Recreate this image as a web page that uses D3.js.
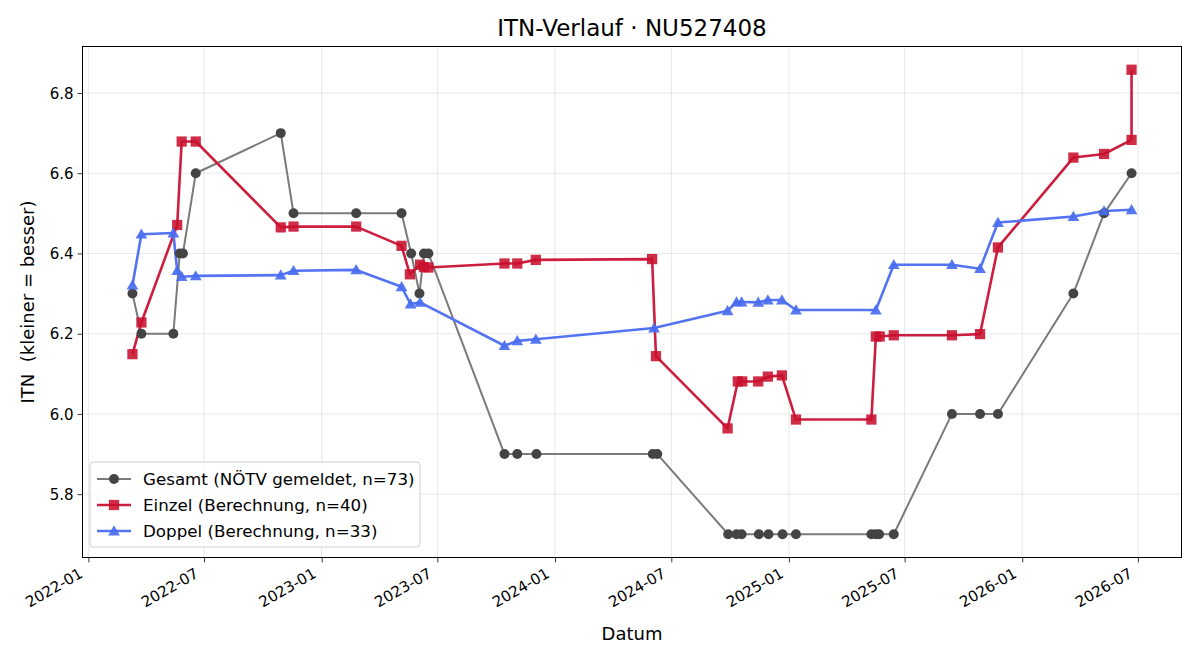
<!DOCTYPE html>
<html><head><meta charset="utf-8">
<script src="https://cdn.jsdelivr.net/npm/d3@7"></script>
<style>body{margin:0;background:#fff}svg,svg text{font-family:"DejaVu Sans",sans-serif}</style>
</head><body><svg id="c" width="1200" height="660"></svg>
<script>
const gesamtDates = ["2022-03-11","2022-03-25","2022-05-14","2022-05-24","2022-05-29","2022-06-18","2022-10-29","2022-11-18","2023-02-24","2023-05-06","2023-05-21","2023-06-03","2023-06-10","2023-06-17","2023-10-14","2023-11-03","2023-12-03","2024-06-02","2024-06-09","2024-09-28","2024-10-11","2024-10-19","2024-11-15","2024-11-30","2024-12-22","2025-01-12","2025-05-10","2025-05-17","2025-05-22","2025-06-14","2025-09-13","2025-10-27","2025-11-24","2026-03-22","2026-05-09","2026-06-21"];
const gesamtValues = [6.3,6.2,6.2,6.4,6.4,6.6,6.7,6.5,6.5,6.5,6.4,6.3,6.4,6.4,5.9,5.9,5.9,5.9,5.9,5.7,5.7,5.7,5.7,5.7,5.7,5.7,5.7,5.7,5.7,5.7,6.0,6.0,6.0,6.3,6.5,6.6];

const einzelDates = ["2022-03-11","2022-03-25","2022-05-20","2022-05-27","2022-06-18","2022-10-29","2022-11-18","2023-02-24","2023-05-06","2023-05-19","2023-06-04","2023-06-10","2023-06-17","2023-10-14","2023-11-03","2023-12-02","2024-06-01","2024-06-07","2024-09-27","2024-10-13","2024-10-20","2024-11-14","2024-11-29","2024-12-21","2025-01-12","2025-05-10","2025-05-17","2025-05-23","2025-06-14","2025-09-13","2025-10-27","2025-11-24","2026-03-22","2026-05-09","2026-06-21","2026-06-21"];
const einzelValues = [6.149,6.228,6.471,6.679,6.679,6.465,6.467,6.467,6.419,6.348,6.372,6.366,6.365,6.375,6.375,6.384,6.386,6.144,5.964,6.081,6.081,6.081,6.093,6.096,5.986,5.986,6.193,6.193,6.196,6.196,6.199,6.415,6.639,6.648,6.683,6.858];

const doppelDates = ["2022-03-11","2022-03-25","2022-05-14","2022-05-20","2022-05-27","2022-06-18","2022-10-29","2022-11-18","2023-02-24","2023-05-06","2023-05-20","2023-06-04","2023-10-14","2023-11-03","2023-12-02","2024-06-04","2024-09-27","2024-10-11","2024-10-19","2024-11-14","2024-11-29","2024-12-21","2025-01-12","2025-05-17","2025-06-14","2025-09-13","2025-10-27","2025-11-24","2026-03-22","2026-05-09","2026-06-21"];
const doppelValues = [6.321,6.448,6.451,6.357,6.342,6.344,6.346,6.357,6.359,6.317,6.274,6.278,6.170,6.182,6.186,6.214,6.257,6.279,6.279,6.278,6.284,6.284,6.259,6.259,6.372,6.372,6.362,6.477,6.492,6.506,6.509];

const yTicks = [5.8,6.0,6.2,6.4,6.6,6.8];
const xTickLabels = ["2022-01","2022-07","2023-01","2023-07","2024-01","2024-07","2025-01","2025-07","2026-01","2026-07"];
const legendLabels = ["Gesamt (NÖTV gemeldet, n=73)","Einzel (Berechnung, n=40)","Doppel (Berechnung, n=33)"];

const parse = d3.utcParse("%Y-%m-%d");
const parseM = d3.utcParse("%Y-%m");
const mk = (ds, vs) => ds.map((d,i)=>({x:parse(d), y:vs[i]}));
const series = [
  {data: mk(gesamtDates,gesamtValues), line:"#7a7a7a", fill:"#444444", lw:2, sym:d3.symbolCircle, size:78, op:1, dy:0},
  {data: mk(einzelDates,einzelValues), line:"#cc1e3e", fill:"#c8102e", lw:2.6, sym:d3.symbolSquare, size:105, op:0.88, dy:0},
  {data: mk(doppelDates,doppelValues), line:"#5373f2", fill:"#4a6cf0", lw:2.6, sym:d3.symbolTriangle, size:60, op:0.92, dy:1}
];

const L=82.5, R=1181.5, T=46.5, B=557.5;
const all = series.flatMap(s=>s.data);
const xe = d3.extent(all, d=>d.x), ye = d3.extent(all, d=>d.y);
const xr = xe[1]-xe[0], yr = ye[1]-ye[0];
const x = d3.scaleUtc().domain([new Date(+xe[0]-0.05*xr), new Date(+xe[1]+0.05*xr)]).range([L,R]);
const y = d3.scaleLinear().domain([ye[0]-0.05*yr, ye[1]+0.05*yr]).range([B,T]);

const svg = d3.select("#c");
const g = svg.append("g");
const xt = xTickLabels.map(parseM);
// grid
g.append("g").selectAll("line").data(xt).join("line")
  .attr("x1",d=>x(d)).attr("x2",d=>x(d)).attr("y1",T).attr("y2",B)
  .attr("stroke","#b0b0b0").attr("stroke-opacity",0.35).attr("stroke-width",0.8);
g.append("g").selectAll("line").data(yTicks).join("line")
  .attr("y1",d=>y(d)).attr("y2",d=>y(d)).attr("x1",L).attr("x2",R)
  .attr("stroke","#b0b0b0").attr("stroke-opacity",0.35).attr("stroke-width",0.8);

// lines and markers
series.forEach(s=>{
  g.append("path").datum(s.data)
    .attr("d", d3.line().x(d=>x(d.x)).y(d=>y(d.y)))
    .attr("fill","none").attr("stroke",s.line).attr("stroke-width",s.lw).attr("stroke-linejoin","round");
});
series.forEach(s=>{
  const sy = d3.symbol().type(s.sym).size(s.size);
  g.append("g").selectAll("path").data(s.data).join("path")
    .attr("transform",d=>`translate(${x(d.x)},${y(d.y)+s.dy})`)
    .attr("d",sy).attr("fill",s.fill).attr("fill-opacity",s.op);
});

// axes
const xa = svg.append("g").attr("transform",`translate(0,${B})`)
  .call(d3.axisBottom(x).tickValues(xt).tickFormat(d3.utcFormat("%Y-%m")).tickSize(4.9).tickSizeOuter(0));
xa.attr("font-family",null).attr("font-size",null);
xa.select(".domain").remove();
xa.selectAll("line").attr("stroke","#000").attr("stroke-width",0.8);
xa.selectAll("text").style("font-size","15px").attr("fill","#000")
  .attr("text-anchor","end").attr("dy",null).attr("y",0)
  .attr("transform","translate(-5,19) rotate(-30)");
const ya = svg.append("g").attr("transform",`translate(${L},0)`)
  .call(d3.axisLeft(y).tickValues(yTicks).tickFormat(d3.format(".1f")).tickSize(4.9).tickSizeOuter(0));
ya.attr("font-family",null).attr("font-size",null);
ya.select(".domain").remove();
ya.selectAll("line").attr("stroke","#000").attr("stroke-width",0.8);
ya.selectAll("text").style("font-size","15px").attr("fill","#000").attr("x",-9).attr("dy","0.35em");

svg.append("rect").attr("x",L).attr("y",T).attr("width",R-L).attr("height",B-T)
  .attr("fill","none").attr("stroke","#000").attr("stroke-width",1);

// labels
svg.append("text").attr("x",(L+R)/2).attr("y",36).attr("text-anchor","middle")
  .style("font-size","23px").text("ITN-Verlauf · NU527408");
svg.append("text").attr("x",(L+R)/2).attr("y",640).attr("text-anchor","middle")
  .style("font-size","18px").text("Datum");
svg.append("text").attr("transform",`translate(34,${(T+B)/2}) rotate(-90)`).attr("text-anchor","middle")
  .style("font-size","18px").style("white-space","pre").text("ITN  (kleiner = besser)");

// legend
const lg = svg.append("g");
lg.append("rect").attr("x",90).attr("y",462).attr("width",330).attr("height",85).attr("rx",3)
  .attr("fill","#fff").attr("fill-opacity",0.8).attr("stroke","#d0d0d0").attr("stroke-width",1);
series.forEach((s,i)=>{
  const yy = 479 + i*26;
  lg.append("line").attr("x1",97).attr("x2",131).attr("y1",yy).attr("y2",yy)
    .attr("stroke",s.line).attr("stroke-width",s.lw);
  lg.append("path").attr("transform",`translate(114,${yy+s.dy})`)
    .attr("d",d3.symbol().type(s.sym).size(s.size)()).attr("fill",s.fill).attr("fill-opacity",s.op);
  lg.append("text").attr("x",143).attr("y",yy).attr("dy","0.35em")
    .style("font-size","16.7px").text(legendLabels[i]);
});
</script></body></html>
